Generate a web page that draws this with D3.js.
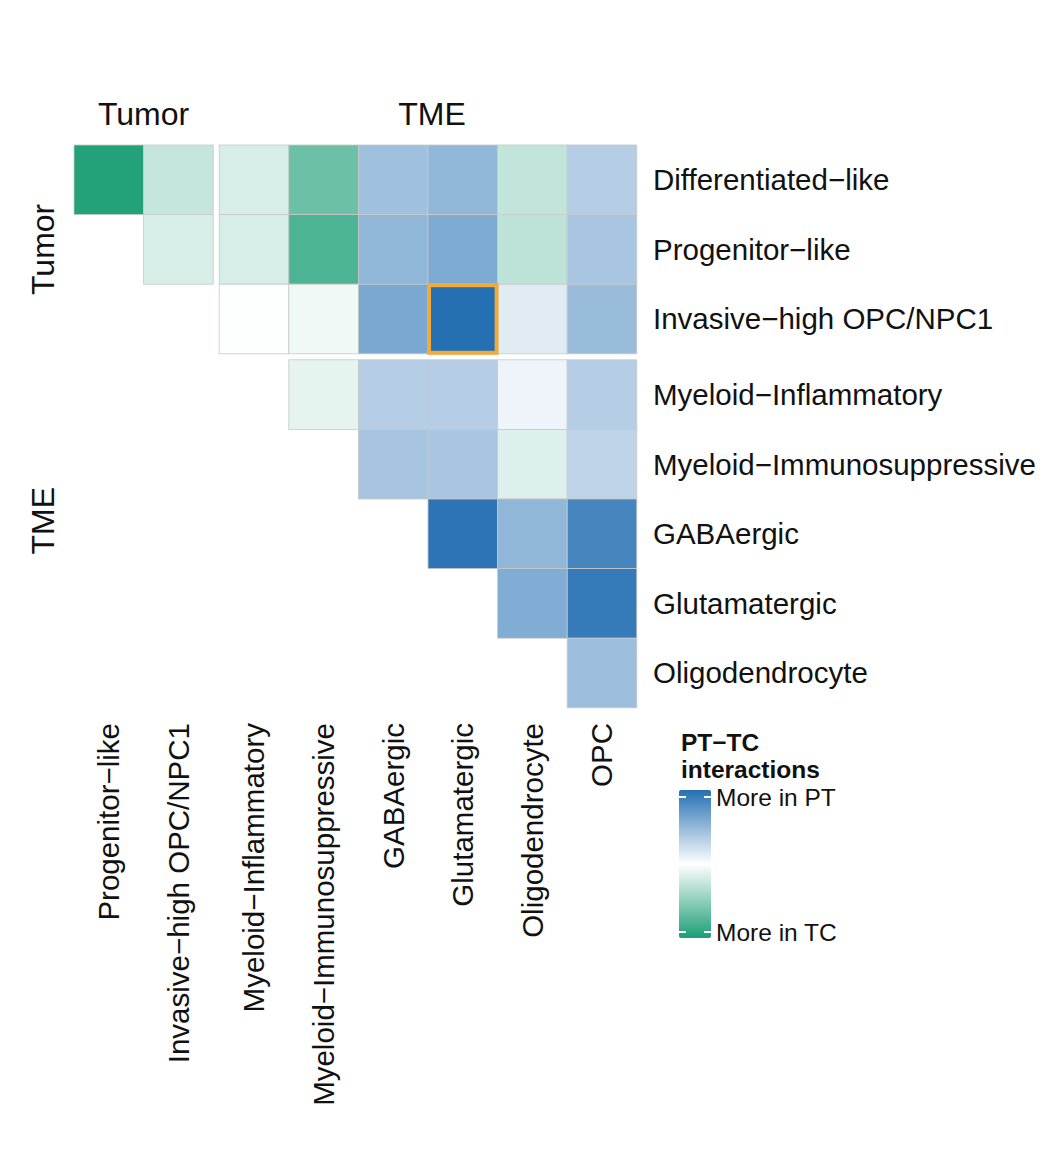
<!DOCTYPE html>
<html>
<head>
<meta charset="utf-8">
<script src="https://cdn.jsdelivr.net/npm/d3@7"></script>
<style>
  body { margin: 0; background: #fff; }
  text { font-family: "Liberation Sans", Arial, sans-serif; fill: #111; }
</style>
</head>
<body>
<svg width="1046" height="1152"></svg>
<script>
// data
const rowNames = ["Differentiated−like", "Progenitor−like", "Invasive−high OPC/NPC1",
  "Myeloid−Inflammatory", "Myeloid−Immunosuppressive", "GABAergic", "Glutamatergic", "Oligodendrocyte"];
const colNames = ["Progenitor−like", "Invasive−high OPC/NPC1", "Myeloid−Inflammatory",
  "Myeloid−Immunosuppressive", "GABAergic", "Glutamatergic", "Oligodendrocyte", "OPC"];
const rowGroups = ["Tumor", "Tumor", "Tumor", "TME", "TME", "TME", "TME", "TME"];
const colGroups = ["Tumor", "Tumor", "TME", "TME", "TME", "TME", "TME", "TME"];

// positive = more in PT (blue), negative = more in TC (green); null = not shown
const values = [
  [-0.97, -0.26, -0.18, -0.65, 0.44, 0.51, -0.27, 0.34],
  [null, -0.18, -0.18, -0.78, 0.51, 0.59, -0.29, 0.40],
  [null, null, -0.01, -0.06, 0.61, 1.00, 0.14, 0.47],
  [null, null, null, -0.11, 0.34, 0.34, 0.08, 0.34],
  [null, null, null, null, 0.41, 0.40, -0.15, 0.30],
  [null, null, null, null, null, 0.97, 0.51, 0.85],
  [null, null, null, null, null, null, 0.58, 0.92],
  [null, null, null, null, null, null, null, 0.45]
];
const highlight = { row: "Invasive−high OPC/NPC1", col: "Glutamatergic" };

const legendTitle = ["PT−TC", "interactions"];
const legendLabels = ["More in PT", "More in TC"];

// layout
const svg = d3.select("svg");
const cell = 69.6, gap = 6;
const x0 = 74, y0 = 145;

// band positions with a gap between groups
function groupedPos(groups, start) {
  const pos = [];
  let p = start;
  groups.forEach((g, i) => {
    if (i > 0 && groups[i - 1] !== g) p += gap;
    pos.push(p);
    p += cell;
  });
  return pos;
}
const xPos = groupedPos(colGroups, x0);
const yPos = groupedPos(rowGroups, y0);
const x = d3.scaleOrdinal().domain(colNames).range(xPos);
const y = d3.scaleOrdinal().domain(rowNames).range(yPos);

const color = d3.scaleLinear()
  .domain([-1, 0, 1])
  .range(["#1b9e77", "#ffffff", "#2570b3"]);

const cells = [];
values.forEach((row, i) => row.forEach((v, j) => {
  if (v !== null) cells.push({ row: rowNames[i], col: colNames[j], v });
}));

svg.append("g").selectAll("rect")
  .data(cells)
  .join("rect")
  .attr("x", d => x(d.col))
  .attr("y", d => y(d.row))
  .attr("width", cell)
  .attr("height", cell)
  .attr("fill", d => color(d.v))
  .attr("stroke", "#c9c9c9")
  .attr("stroke-width", 0.8);

// highlighted cell
svg.append("rect")
  .attr("x", x(highlight.col) + 1)
  .attr("y", y(highlight.row) + 1)
  .attr("width", cell - 2)
  .attr("height", cell - 2)
  .attr("fill", "none")
  .attr("stroke", "#f0ab3c")
  .attr("stroke-width", 4);

// row labels
svg.append("g").selectAll("text")
  .data(rowNames)
  .join("text")
  .attr("x", 653)
  .attr("y", d => y(d) + cell / 2)
  .attr("dy", "0.35em")
  .style("font-size", "29.5px")
  .text(d => d);

// column labels
svg.append("g").selectAll("text")
  .data(colNames)
  .join("text")
  .attr("transform", d => `translate(${x(d) + cell / 2},${723}) rotate(-90)`)
  .attr("dy", "0.35em")
  .attr("text-anchor", "end")
  .style("font-size", "29.5px")
  .text(d => d);

// group titles
const tumorCols = colNames.filter((c, i) => colGroups[i] === "Tumor");
const tmeCols = colNames.filter((c, i) => colGroups[i] === "TME");
const tumorRows = rowNames.filter((r, i) => rowGroups[i] === "Tumor");
const tmeRows = rowNames.filter((r, i) => rowGroups[i] === "TME");

svg.append("text")
  .attr("x", (x(tumorCols[0]) + x(tumorCols[tumorCols.length - 1]) + cell) / 2)
  .attr("y", 125)
  .attr("text-anchor", "middle")
  .style("font-size", "32px")
  .text("Tumor");
svg.append("text")
  .attr("x", (x(tmeCols[0]) + x(tmeCols[tmeCols.length - 1]) + cell) / 2 + 4)
  .attr("y", 125)
  .attr("text-anchor", "middle")
  .style("font-size", "32px")
  .text("TME");

svg.append("text")
  .attr("transform", `translate(54,${(y(tumorRows[0]) + y(tumorRows[tumorRows.length - 1]) + cell) / 2}) rotate(-90)`)
  .attr("text-anchor", "middle")
  .style("font-size", "32px")
  .text("Tumor");
svg.append("text")
  .attr("transform", `translate(54,${(y(tmeRows[0]) + y(tmeRows[tmeRows.length - 1]) + cell) / 2 - 13}) rotate(-90)`)
  .attr("text-anchor", "middle")
  .style("font-size", "32px")
  .text("TME");

// legend
const lg = svg.append("g").attr("transform", "translate(679,0)");
lg.selectAll("text.title")
  .data(legendTitle)
  .join("text")
  .attr("class", "title")
  .attr("x", 2)
  .attr("y", (d, i) => 751 + i * 27)
  .style("font-size", "24.5px")
  .style("font-weight", "bold")
  .text(d => d);

const defs = svg.append("defs");
const grad = defs.append("linearGradient")
  .attr("id", "lgGrad")
  .attr("x1", 0).attr("y1", 0).attr("x2", 0).attr("y2", 1);
const ls = d3.scaleLinear().domain([1, -1]).range([0, 1]);
d3.range(1, -1.01, -0.1).forEach(v => {
  grad.append("stop")
    .attr("offset", ls(v))
    .attr("stop-color", color(v));
});

const barTop = 790, barH = 148, barW = 32;
lg.append("rect")
  .attr("x", 0).attr("y", barTop)
  .attr("width", barW).attr("height", barH)
  .attr("rx", 2)
  .attr("fill", "url(#lgGrad)");

const lgY = d3.scaleLinear().domain([1, -1]).range([barTop + 7, barTop + barH - 6]);
[1, -1].forEach(v => {
  lg.append("line").attr("x1", 0).attr("x2", 7)
    .attr("y1", lgY(v)).attr("y2", lgY(v))
    .attr("stroke", "#fff").attr("stroke-width", 2);
  lg.append("line").attr("x1", barW - 7).attr("x2", barW)
    .attr("y1", lgY(v)).attr("y2", lgY(v))
    .attr("stroke", "#fff").attr("stroke-width", 2);
});
lg.selectAll("text.lab")
  .data(legendLabels)
  .join("text")
  .attr("class", "lab")
  .attr("x", barW + 5)
  .attr("y", (d, i) => lgY(i === 0 ? 1 : -1))
  .attr("dy", "0.35em")
  .style("font-size", "24.5px")
  .text(d => d);
</script>
</body>
</html>
